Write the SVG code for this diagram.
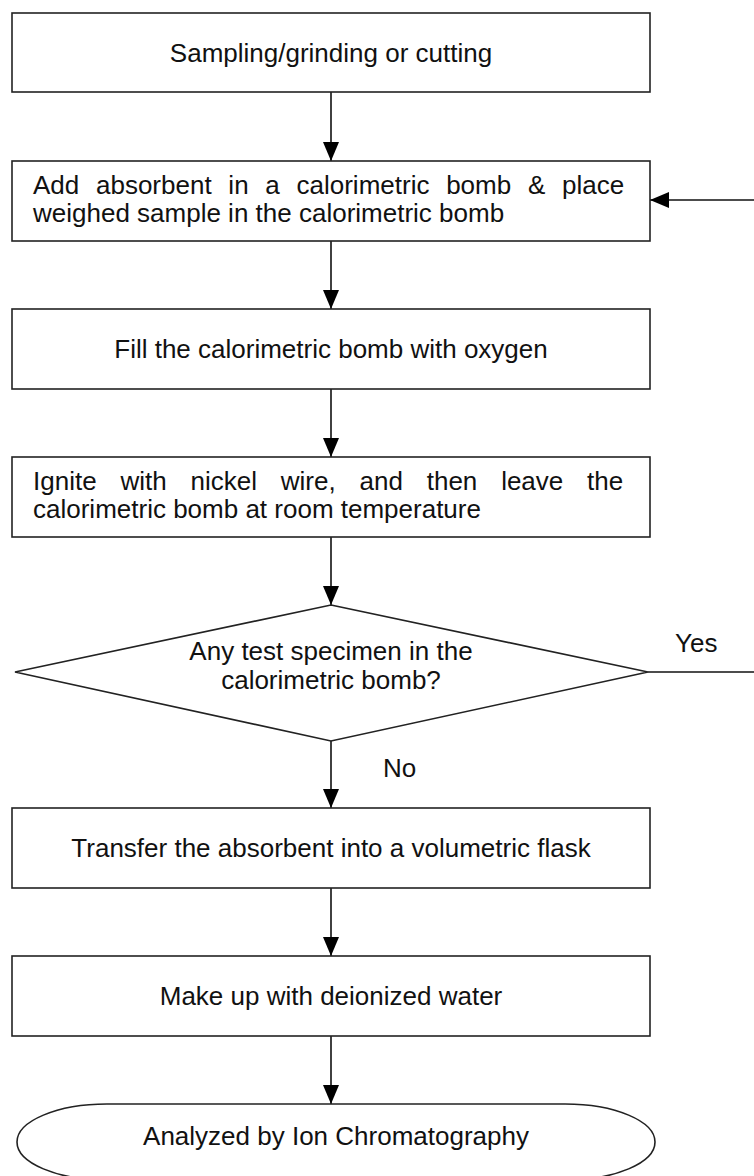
<svg xmlns="http://www.w3.org/2000/svg" width="754" height="1176" viewBox="0 0 754 1176">
<defs>
<marker id="ah" markerUnits="userSpaceOnUse" markerWidth="20" markerHeight="16" refX="19" refY="8" orient="auto">
<path d="M0,0 L19,8 L0,16 z" fill="#000"/>
</marker>
<style>
.box{fill:#fff;stroke:#222;stroke-width:1.6}
.t{font-family:"Liberation Sans",Arial,sans-serif;font-size:26px;fill:#111}
.c{text-anchor:middle}
.ln{stroke:#111;stroke-width:1.6;fill:none}
</style>
</defs>
<rect width="754" height="1176" fill="#fff"/>
<g id="connectors">
<line class="ln" x1="331" y1="92" x2="331" y2="161" marker-end="url(#ah)"/>
<line class="ln" x1="754" y1="200" x2="650" y2="200" marker-end="url(#ah)"/>
<line class="ln" x1="331" y1="241" x2="331" y2="309" marker-end="url(#ah)"/>
<line class="ln" x1="331" y1="389" x2="331" y2="457" marker-end="url(#ah)"/>
<line class="ln" x1="331" y1="537" x2="331" y2="605" marker-end="url(#ah)"/>
<line class="ln" x1="648" y1="672" x2="754" y2="672"/>
<line class="ln" x1="331" y1="741" x2="331" y2="808" marker-end="url(#ah)"/>
<line class="ln" x1="331" y1="888" x2="331" y2="956" marker-end="url(#ah)"/>
<line class="ln" x1="331" y1="1036" x2="331" y2="1104" marker-end="url(#ah)"/>
<text class="t" x="675" y="652">Yes</text>
<text class="t" x="383" y="777">No</text>
</g>
<g id="n1">
<rect class="box" x="12" y="13" width="638" height="79"/>
<text class="t c" x="331" y="62">Sampling/grinding or cutting</text>
</g>
<g id="n2">
<rect class="box" x="12" y="161" width="638" height="80"/>
<text class="t" x="33" y="194" word-spacing="9.5">Add absorbent in a calorimetric bomb &amp; place</text>
<text class="t" x="33" y="222">weighed sample in the calorimetric bomb</text>
</g>
<g id="n3">
<rect class="box" x="12" y="309" width="638" height="80"/>
<text class="t c" x="331" y="358">Fill the calorimetric bomb with oxygen</text>
</g>
<g id="n4">
<rect class="box" x="12" y="457" width="638" height="80"/>
<text class="t" x="33" y="490" word-spacing="16.6">Ignite with nickel wire, and then leave the</text>
<text class="t" x="33" y="518">calorimetric bomb at room temperature</text>
</g>
<g id="n5">
<polygon class="box" points="331,605 648,672 331,741 15,672"/>
<text class="t c" x="331" y="660">Any test specimen in the</text>
<text class="t c" x="331" y="689">calorimetric bomb?</text>
</g>
<g id="n6">
<rect class="box" x="12" y="808" width="638" height="80"/>
<text class="t c" x="331" y="857">Transfer the absorbent into a volumetric flask</text>
</g>
<g id="n7">
<rect class="box" x="12" y="956" width="638" height="80"/>
<text class="t c" x="331" y="1005">Make up with deionized water</text>
</g>
<g id="n8">
<rect class="box" x="17" y="1104" width="638" height="76" rx="90" ry="38"/>
<text class="t c" x="336" y="1145">Analyzed by Ion Chromatography</text>
</g>
</svg>
